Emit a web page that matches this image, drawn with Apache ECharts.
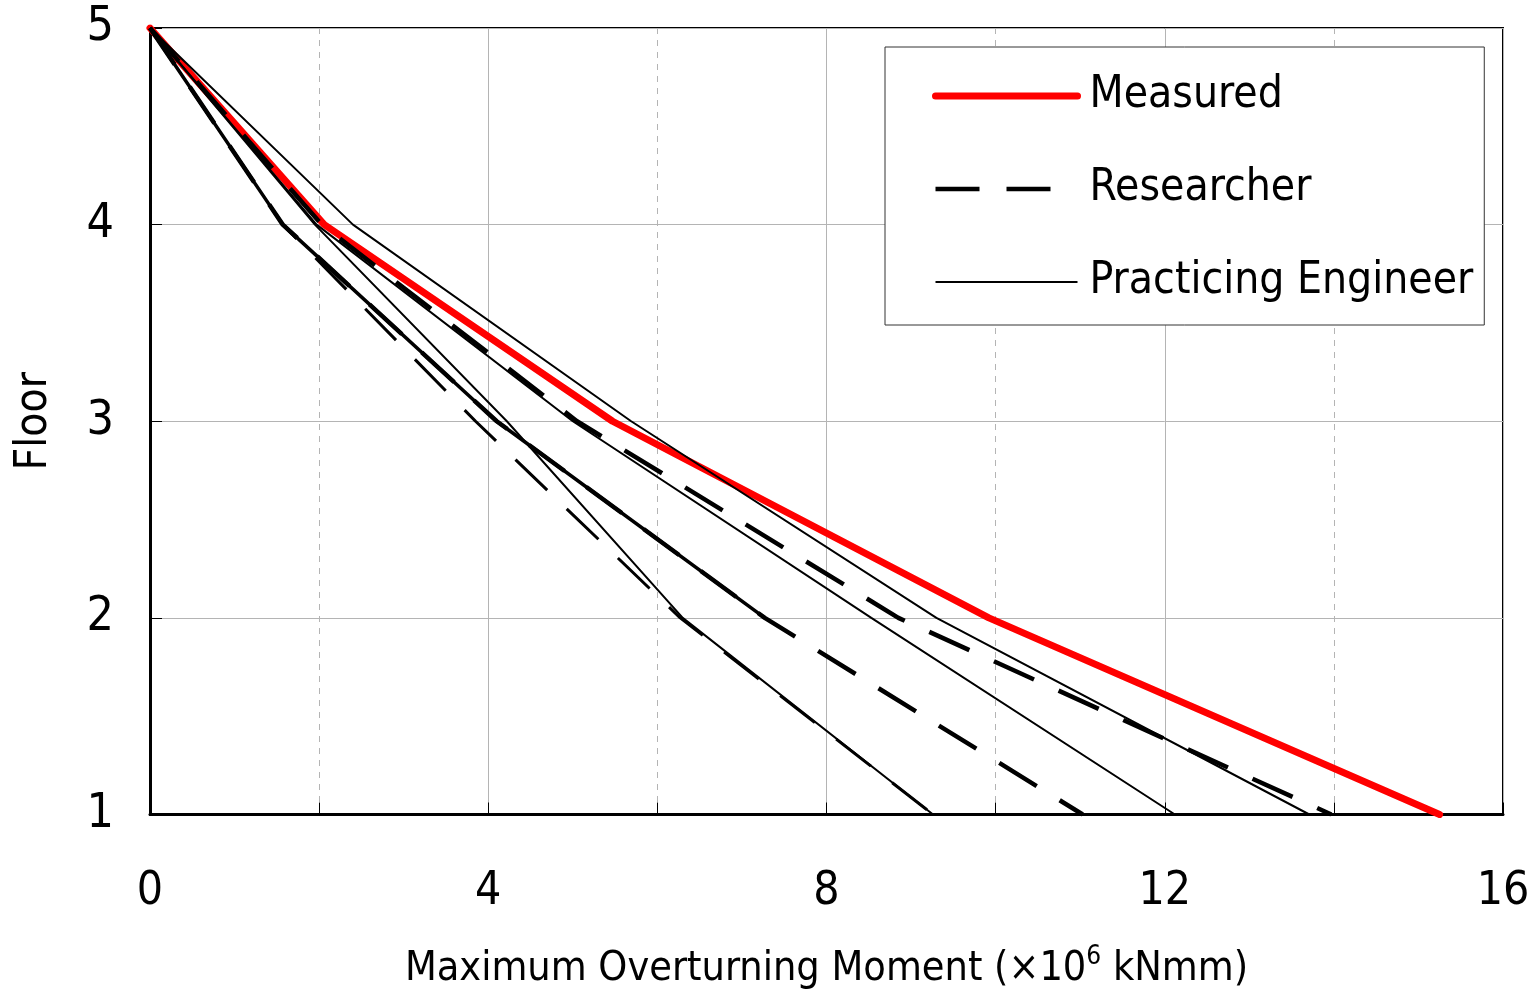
<!DOCTYPE html>
<html>
<head>
<meta charset="utf-8">
<title>Overturning moment</title>
<script src="https://cdn.jsdelivr.net/npm/echarts@6/dist/echarts.min.js"></script>
<style>
	html, body { margin: 0; padding: 0; background: #fff; }
	#chart { width: 1538px; height: 995px; }
</style>
</head>
<body>
<div id="chart"></div>
<script>
// floors from top to bottom, moments (x10^6 kNmm)
var floors = [5, 4, 3, 2, 1];
var measured = [0, 2.06, 5.47, 9.92, 15.25];

// researcher estimates (dashed)
var researcherA = [0, 2.03, 5.05, 8.85, 13.97];
var researcherB = [0, 1.57, 3.85, 6.27, 9.26];
var researcherC = [0, 1.57, 4.10, 7.27, 11.03];

// practicing engineer estimates (thin solid)
var engineerA = [0, 2.40, 5.69, 9.30, 13.71];
var engineerB = [0, 1.97, 5.00, 8.53, 12.12];
var engineerC = [0, 1.95, 4.22, 6.30, 9.26];

var xTicks = [0, 4, 8, 12, 16];
var yTicks = [1, 2, 3, 4, 5];

// narrowest face we have, the original uses a condensed font
var FONT = "'DejaVu Sans Condensed', 'Liberation Sans Narrow', 'Liberation Sans', sans-serif";
// 44+27+44+27 = legend item width, so the legend shows two whole dashes
var DASH = [44, 27];

function pairs(values) {
	return values.map(function(v, i) {
		return [v, floors[i]];
	});
}

function lineSeries(name, values, style) {
	return {
		name: name,
		type: 'line',
		data: pairs(values),
		symbol: 'none',
		silent: true,
		itemStyle: { color: style.color },
		lineStyle: style
	};
}

var dashed = { color: '#000', width: 4.5, type: DASH, cap: 'butt' };
var thin = { color: '#000', width: 2, type: 'solid' };

var series = [
	lineSeries('Measured', measured, { color: '#ff0000', width: 7, cap: 'round', join: 'round' }),
	lineSeries('Researcher', researcherA, dashed),
	lineSeries('Researcher', researcherB, { color: '#000', width: 3, type: DASH, cap: 'butt' }),
	lineSeries('Researcher', researcherC, dashed),
	// upper part of the third researcher curve is drawn solid in the original
	lineSeries('ResearcherSolid', researcherC.slice(0, 4), { color: '#000', width: 3.5, type: 'solid' }),
	lineSeries('Practicing Engineer', engineerA, thin),
	lineSeries('Practicing Engineer', engineerB, thin),
	lineSeries('Practicing Engineer', engineerC, thin)
];

var myChart = echarts.init(document.getElementById('chart'), null, { renderer: 'canvas' });

var option = {
	animation: false,
	backgroundColor: '#fff',
	textStyle: { fontFamily: FONT, color: '#000' },
	grid: {
		left: 150,
		right: 35,
		top: 28,
		bottom: 177,
		show: true,
		borderColor: '#000',
		borderWidth: 2
	},
	legend: {
		data: ['Measured', 'Researcher', 'Practicing Engineer'],
		orient: 'vertical',
		left: 885,
		top: 47,
		padding: [19, 11, 13, 47],
		itemGap: 33,
		itemWidth: 142,
		itemHeight: 20,
		backgroundColor: '#fff',
		borderColor: '#333',
		borderWidth: 1,
		selectedMode: false,
		itemStyle: { opacity: 0, borderWidth: 0 },
		lineStyle: { width: 'inherit' },
		textStyle: {
			fontFamily: FONT,
			fontSize: 44,
			lineHeight: 60,
			color: '#000',
			padding: [0, 0, 0, 7]
		}
	},
	xAxis: {
		type: 'value',
		min: xTicks[0],
		max: xTicks[xTicks.length - 1],
		interval: 4,
		name: '{a|Maximum Overturning Moment (×10}{s|6}{a| kNmm)}',
		nameLocation: 'middle',
		nameGap: 130,
		nameTextStyle: {
			rich: {
				a: { fontFamily: FONT, fontSize: 41, color: '#000' },
				s: { fontFamily: FONT, fontSize: 26, color: '#000', verticalAlign: 'top', padding: [0, 0, 24, 0] }
			}
		},
		axisLine: { show: true, lineStyle: { color: '#000', width: 3 } },
		axisTick: { show: true, inside: true, length: 12, lineStyle: { color: '#000', width: 1 } },
		minorTick: { show: true, splitNumber: 2, length: 12, lineStyle: { color: '#000', width: 1 } },
		axisLabel: { fontFamily: FONT, fontSize: 46, color: '#000', margin: 55 },
		splitLine: { show: true, lineStyle: { color: '#b4b4b4', width: 1 } },
		minorSplitLine: { show: true, lineStyle: { color: '#b4b4b4', width: 1, type: [6, 6] } }
	},
	yAxis: {
		type: 'value',
		min: yTicks[0],
		max: yTicks[yTicks.length - 1],
		interval: 1,
		name: 'Floor',
		nameLocation: 'middle',
		nameGap: 93,
		nameTextStyle: { fontFamily: FONT, fontSize: 44, color: '#000' },
		axisLine: { show: true, lineStyle: { color: '#000', width: 3 } },
		axisTick: { show: true, inside: true, length: 12, lineStyle: { color: '#000', width: 1 } },
		axisLabel: { fontFamily: FONT, fontSize: 48, color: '#000', margin: 36 },
		splitLine: { show: true, lineStyle: { color: '#b4b4b4', width: 1 } }
	},
	series: series
};

myChart.setOption(option, true);
</script>
</body>
</html>
